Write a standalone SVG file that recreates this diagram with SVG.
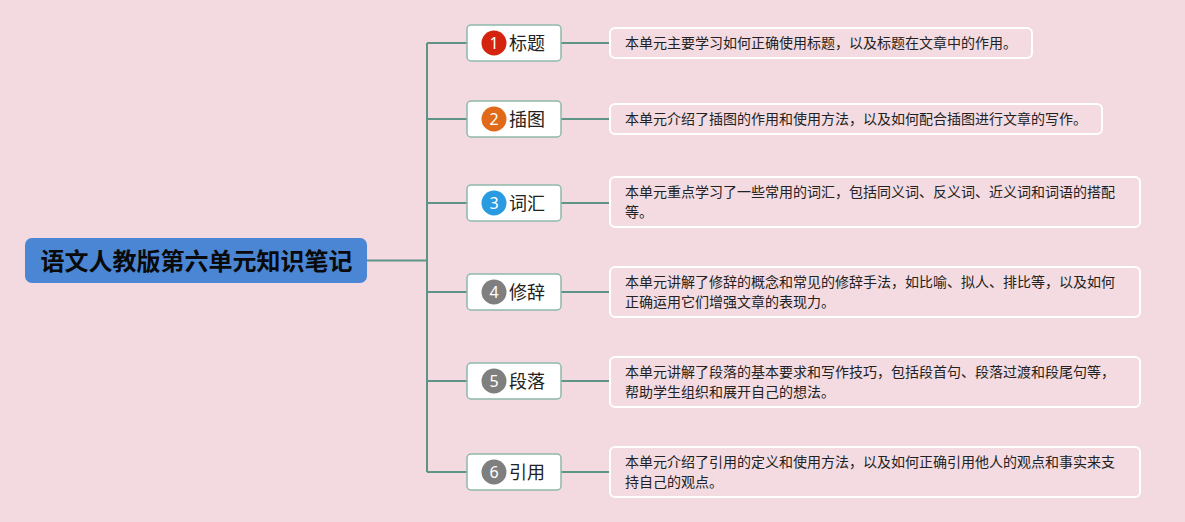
<svg xmlns="http://www.w3.org/2000/svg" width="1185" height="522" viewBox="0 0 1185 522">
<style>
.conn{fill:none;stroke:#5e9486;stroke-width:2}
.br rect{fill:#ffffff;stroke:#8fb8aa;stroke-width:1.5}
.br text.t{font-family:"Noto Sans CJK SC","Noto Sans",sans-serif;font-size:18px;fill:#222}
.br text.n{font-family:"Noto Sans","Liberation Sans",sans-serif;font-size:16px;fill:#fff;text-anchor:middle}
.dt rect{fill:#f3dbe1;stroke:#ffffff;stroke-width:2}
.dt text{font-family:"Noto Sans CJK SC","Noto Sans",sans-serif;font-size:14px;fill:#222}
</style>
<rect x="0" y="0" width="1185" height="522" fill="#f2dae0"/>
<g id="connectors">
<path class="conn" d="M367 260.5H427"/>
<path class="conn" d="M427 43V472"/>
<path class="conn" d="M427 43H467M427 119H467M427 203H467M427 292H467M427 381H467M427 472H467"/>
<path class="conn" d="M561 43H610M561 119H610M561 203H610M561 292H610M561 381H610M561 472H610"/>
</g>
<g id="root">
<rect x="25" y="238" width="342" height="45" rx="7" fill="#4a86d4"/>
<text x="196.5" y="269.5" text-anchor="middle" font-family="Noto Sans CJK SC,sans-serif" font-size="24" font-weight="bold" fill="#0a0a0a">语文人教版第六单元知识笔记</text>
</g>
<g id="b1" class="br">
<rect x="467" y="25" width="94" height="36" rx="4"/>
<circle cx="494" cy="43" r="12.5" fill="#d4230f"/>
<text class="n" x="494" y="49">1</text>
<text class="t" x="509" y="49.5">标题</text>
</g>
<g id="b2" class="br">
<rect x="467" y="101" width="94" height="36" rx="4"/>
<circle cx="494" cy="119" r="12.5" fill="#e06a1a"/>
<text class="n" x="494" y="125">2</text>
<text class="t" x="509" y="125.5">插图</text>
</g>
<g id="b3" class="br">
<rect x="467" y="185" width="94" height="36" rx="4"/>
<circle cx="494" cy="203" r="12.5" fill="#2a9be0"/>
<text class="n" x="494" y="209">3</text>
<text class="t" x="509" y="209.5">词汇</text>
</g>
<g id="b4" class="br">
<rect x="467" y="274" width="94" height="36" rx="4"/>
<circle cx="494" cy="292" r="12.5" fill="#7f7f7f"/>
<text class="n" x="494" y="298">4</text>
<text class="t" x="509" y="298.5">修辞</text>
</g>
<g id="b5" class="br">
<rect x="467" y="363" width="94" height="36" rx="4"/>
<circle cx="494" cy="381" r="12.5" fill="#7f7f7f"/>
<text class="n" x="494" y="387">5</text>
<text class="t" x="509" y="387.5">段落</text>
</g>
<g id="b6" class="br">
<rect x="467" y="454" width="94" height="36" rx="4"/>
<circle cx="494" cy="472" r="12.5" fill="#7f7f7f"/>
<text class="n" x="494" y="478">6</text>
<text class="t" x="509" y="478.5">引用</text>
</g>
<g id="d1" class="dt">
<rect x="610" y="28" width="422" height="30" rx="5"/>
<text x="625" y="48">本单元主要学习如何正确使用标题，以及标题在文章中的作用。</text>
</g>
<g id="d2" class="dt">
<rect x="610" y="104" width="492" height="30" rx="5"/>
<text x="625" y="124">本单元介绍了插图的作用和使用方法，以及如何配合插图进行文章的写作。</text>
</g>
<g id="d3" class="dt">
<rect x="610" y="177" width="530" height="50" rx="5"/>
<text x="625" y="197">本单元重点学习了一些常用的词汇，包括同义词、反义词、近义词和词语的搭配</text>
<text x="625" y="217">等。</text>
</g>
<g id="d4" class="dt">
<rect x="610" y="267" width="530" height="50" rx="5"/>
<text x="625" y="287">本单元讲解了修辞的概念和常见的修辞手法，如比喻、拟人、排比等，以及如何</text>
<text x="625" y="307">正确运用它们增强文章的表现力。</text>
</g>
<g id="d5" class="dt">
<rect x="610" y="357" width="530" height="50" rx="5"/>
<text x="625" y="377">本单元讲解了段落的基本要求和写作技巧，包括段首句、段落过渡和段尾句等，</text>
<text x="625" y="397">帮助学生组织和展开自己的想法。</text>
</g>
<g id="d6" class="dt">
<rect x="610" y="447" width="530" height="50" rx="5"/>
<text x="625" y="467">本单元介绍了引用的定义和使用方法，以及如何正确引用他人的观点和事实来支</text>
<text x="625" y="487">持自己的观点。</text>
</g>
</svg>
